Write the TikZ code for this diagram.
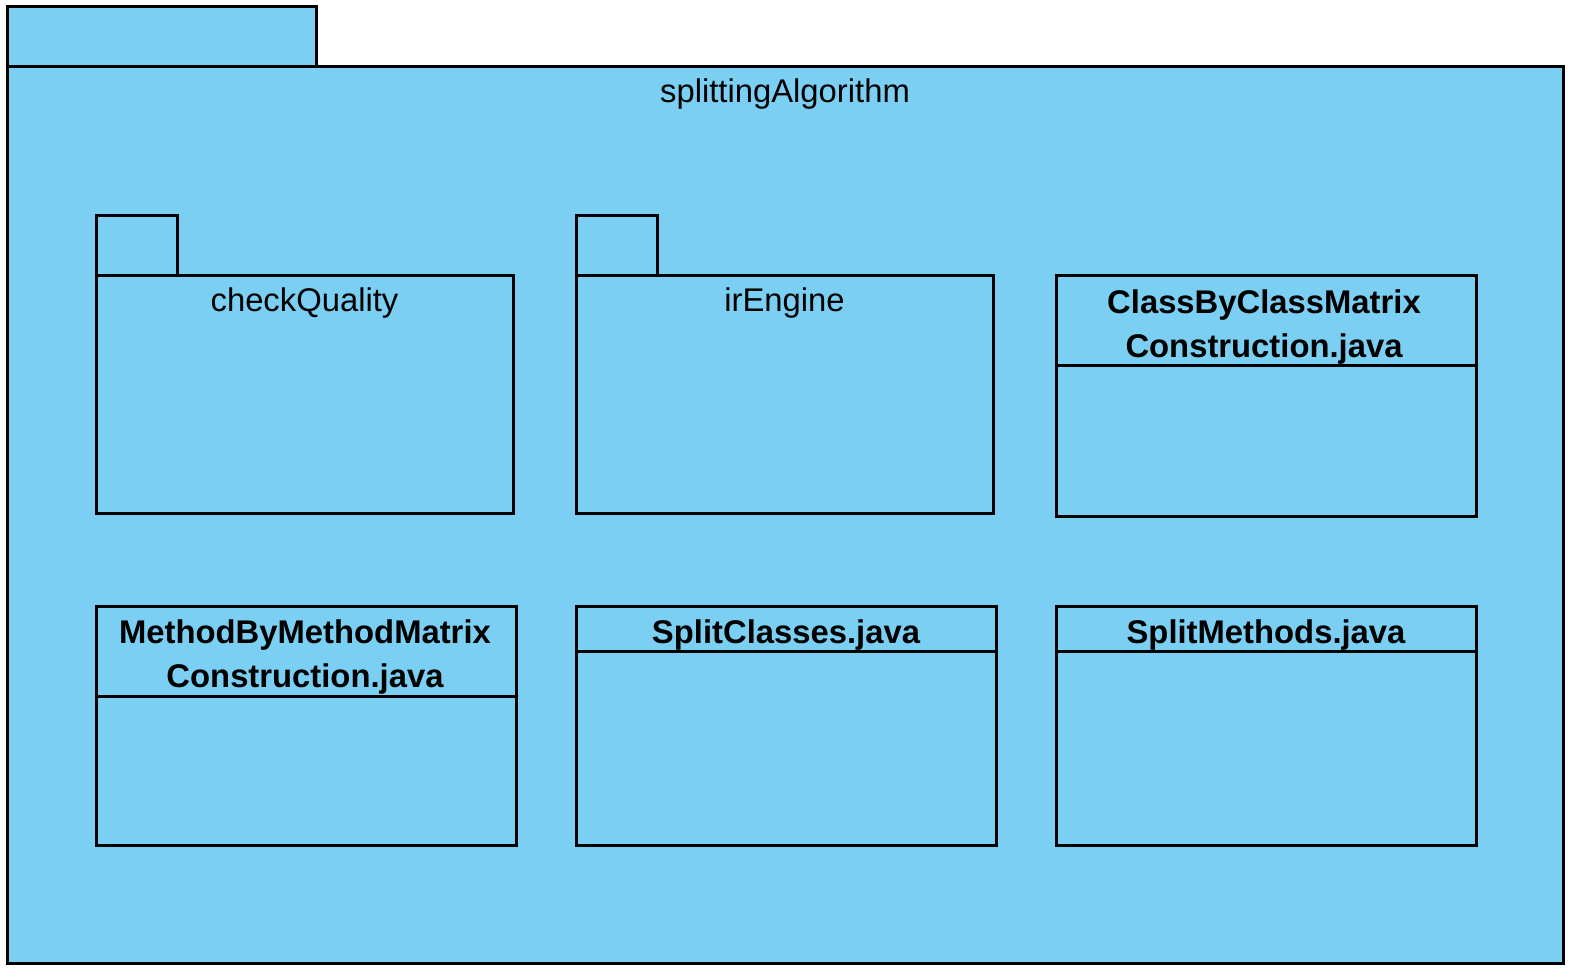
\documentclass[tikz,border=0pt]{standalone}
\usepackage{fontspec}
\setmainfont{Liberation Sans}
\usepackage{tikz}
\usetikzlibrary{positioning}
\definecolor{umlblue}{RGB}{122,207,243}

\begin{document}
\begin{tikzpicture}[
		x=0.5pt, y=-0.5pt,
		umlshape/.style={draw, fill=umlblue, line width=1.5pt},
		pkgname/.style={font=\fontsize{16.4}{22}\selectfont, inner sep=0pt, anchor=base},
		clsname/.style={font=\fontsize{16.4}{22}\selectfont\bfseries, align=center, inner sep=0pt}
		]
		\useasboundingbox (0,0) rectangle (1578,978);
		
		% Le paquetage principal
		\draw[umlshape] (7,7) rectangle (316,67);
		\draw[umlshape] (7,67) rectangle (1563,963);
		\node[pkgname] (algo) at (785,103) {splittingAlgorithm};
		
		% Les sous-paquetages
		\draw[umlshape] (96,216) rectangle (177,276);
		\draw[umlshape] (96,276) rectangle (513,513);
		\node[pkgname] (quality) at (304.5,312) {checkQuality};
		
		\draw[umlshape] (576,216) rectangle (657,276);
		\draw[umlshape] (576,276) rectangle (993,513);
		\node[pkgname] (engine) at (784.5,312) {irEngine};
		
		% Les classes
		\draw[umlshape] (1056,276) rectangle (1476,516);
		\draw[umlshape] (1056,366) -- (1476,366);
		\node[clsname] (cbc) at (1264,327) {ClassByClassMatrix\\Construction.java};
		
		\draw[umlshape] (96,606) rectangle (516,845);
		\draw[umlshape] (96,696) -- (516,696);
		\node[clsname] (mbm) at (305,657) {MethodByMethodMatrix\\Construction.java};
		
		\draw[umlshape] (576,606) rectangle (996,845);
		\draw[umlshape] (576,651) -- (996,651);
		\node[clsname, anchor=base] (splitc) at (786,643) {SplitClasses.java};
		
		\draw[umlshape] (1056,606) rectangle (1476,845);
		\draw[umlshape] (1056,651) -- (1476,651);
		\node[clsname, anchor=base] (splitm) at (1266,643) {SplitMethods.java};
	\end{tikzpicture}
\end{document}
